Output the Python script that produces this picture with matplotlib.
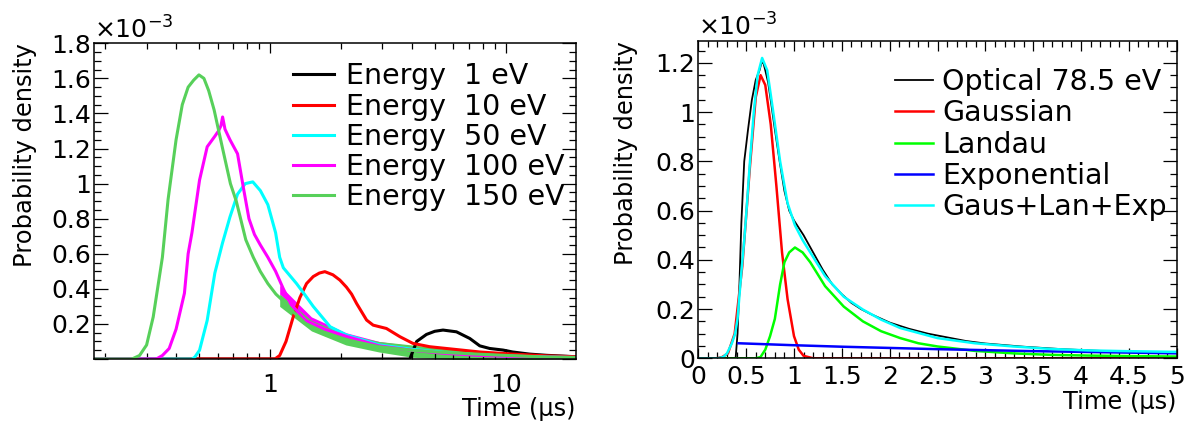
import matplotlib
matplotlib.use("Agg")
import matplotlib.pyplot as plt
from matplotlib.ticker import FixedLocator, LogLocator, NullFormatter, MultipleLocator, FuncFormatter

# ── Left panel: arrival time for several energies (y in units of 1e-3) ──────
energy_labels = ["Energy  1 eV", "Energy  10 eV", "Energy  50 eV", "Energy  100 eV", "Energy  150 eV"]

e1_t = [0.18, 3.92, 4.19, 4.61, 5.0, 5.42, 6.18, 7.04, 7.76, 8.55, 9.74, 10.7, 12.6, 14.9, 19.8]
e1_v = [0, 0, 0.10, 0.14, 0.158, 0.165, 0.155, 0.117, 0.075, 0.06, 0.051, 0.04, 0.028, 0.021, 0.013]

e10_t = [0.18, 1.05, 1.1, 1.17, 1.256, 1.34, 1.43, 1.526, 1.62, 1.71, 1.85, 1.98, 2.11, 2.22, 2.33,
         2.57, 2.74, 3.12, 3.56, 4.04, 4.76, 5.6, 7.76, 10.7, 14.9, 19.8]
e10_v = [0, 0, 0.02, 0.10, 0.241, 0.35, 0.43, 0.47, 0.49, 0.498, 0.48, 0.45, 0.41, 0.37, 0.317,
         0.222, 0.193, 0.174, 0.127, 0.089, 0.07, 0.06, 0.04, 0.028, 0.018, 0.013]

e50_t = [0.18, 0.467, 0.48, 0.503, 0.542, 0.584, 0.629, 0.677, 0.729, 0.786, 0.846, 0.911, 0.98,
         1.057, 1.10, 1.14, 1.297, 1.4, 1.526, 1.8, 2.11, 2.92, 4.04, 5.5, 7.76, 11, 15, 19.8]
e50_v = [0, 0, 0.01, 0.05, 0.22, 0.49, 0.66, 0.81, 0.94, 1.0, 1.01, 0.96, 0.88,
         0.72, 0.58, 0.52, 0.43, 0.37, 0.30, 0.184, 0.137, 0.08, 0.055, 0.037, 0.023, 0.016, 0.011, 0.009]

e100_t = [0.18, 0.33, 0.35, 0.374, 0.40, 0.434, 0.45, 0.467, 0.503, 0.542, 0.584, 0.605, 0.62, 0.63,
          0.645, 0.677, 0.729, 0.771, 0.815, 0.86, 0.911, 0.98, 1.057, 1.14, 1.23, 1.42, 1.71, 2.1,
          2.9, 4.0, 5.5, 7.8, 11, 15, 19.8]
e100_v = [0, 0, 0.02, 0.06, 0.17, 0.375, 0.6, 0.72, 1.02, 1.21, 1.27, 1.30, 1.33, 1.38, 1.31,
          1.25, 1.17, 0.98, 0.80, 0.71, 0.65, 0.58, 0.50, 0.40, 0.31, 0.22, 0.17, 0.13,
          0.075, 0.05, 0.032, 0.02, 0.014, 0.01, 0.008]

e150_t = [0.18, 0.26, 0.28, 0.30, 0.32, 0.35, 0.37, 0.40, 0.425, 0.45, 0.475, 0.50, 0.525, 0.55,
          0.58, 0.63, 0.68, 0.72, 0.79, 0.85, 0.91, 0.98, 1.06, 1.14, 1.23, 1.42, 1.71, 2.1, 2.9,
          4.0, 5.5, 7.8, 11, 15, 19.8]
e150_v = [0, 0, 0.02, 0.08, 0.24, 0.58, 0.91, 1.25, 1.45, 1.55, 1.59, 1.62, 1.60, 1.53,
          1.42, 1.2, 1.0, 0.9, 0.68, 0.58, 0.5, 0.43, 0.37, 0.33, 0.28, 0.2, 0.14, 0.11, 0.07,
          0.05, 0.037, 0.027, 0.018, 0.011, 0.008]

# spread of the bin-to-bin fluctuations in the tails
band_t = [1.1, 1.5, 2.1, 2.9, 4.0, 5.6, 7.8, 11, 15, 19.8]
e100_lo = [0.37, 0.19, 0.10, 0.05, 0.02, 0.01, 0.0, 0.0, 0.0, 0.0]
e100_hi = [0.42, 0.24, 0.15, 0.10, 0.075, 0.055, 0.04, 0.03, 0.02, 0.015]
e150_lo = [0.30, 0.16, 0.08, 0.04, 0.01, 0.0, -0.01, -0.01, 0.0, 0.0]
e150_hi = [0.37, 0.22, 0.14, 0.10, 0.08, 0.06, 0.045, 0.03, 0.02, 0.012]

# ── Right panel: optical 78.5 eV histogram and fit components ───────────────
fit_labels = ["Optical 78.5 eV", "Gaussian", "Landau", "Exponential", "Gaus+Lan+Exp"]

opt_t = [0, 0.39, 0.41, 0.43, 0.45, 0.48, 0.52, 0.56, 0.60, 0.64, 0.66, 0.68, 0.70, 0.73, 0.76,
         0.80, 0.85, 0.90, 0.95, 1.0, 1.05, 1.1, 1.2, 1.3, 1.4, 1.5, 1.6, 1.7, 1.8, 2.0, 2.2, 2.4,
         2.6, 2.8, 3.0, 3.4, 3.8, 4.2, 4.6, 5.0]
opt_v = [0, 0, 0.10, 0.30, 0.55, 0.80, 0.93, 1.05, 1.13, 1.17, 1.20, 1.20, 1.17, 1.12, 1.04,
         0.93, 0.80, 0.68, 0.60, 0.56, 0.53, 0.50, 0.43, 0.36, 0.30, 0.26, 0.225, 0.20, 0.18, 0.145,
         0.12, 0.10, 0.085, 0.07, 0.06, 0.047, 0.037, 0.03, 0.026, 0.022]

gaus_t = [0, 0.19, 0.25, 0.31, 0.38, 0.46, 0.54, 0.60, 0.651, 0.70, 0.757, 0.816, 0.875, 0.933,
          1.0, 1.05, 1.1, 1.2, 5.0]
gaus_v = [0, 0, 0.005, 0.02, 0.10, 0.375, 0.78, 1.06, 1.15, 1.11, 0.95, 0.70, 0.43, 0.24,
          0.09, 0.035, 0.01, 0, 0]

landau_t = [0, 0.6, 0.65, 0.7, 0.75, 0.8, 0.855, 0.9, 0.95, 1.01, 1.09, 1.17, 1.325, 1.52, 1.72,
            1.91, 2.11, 2.3, 2.5, 2.89, 3.29, 3.68, 4.07, 4.5, 5.0]
landau_v = [0, 0, 0.005, 0.035, 0.09, 0.16, 0.30, 0.39, 0.43, 0.45, 0.43, 0.39, 0.293, 0.21, 0.15,
            0.11, 0.082, 0.061, 0.048, 0.03, 0.02, 0.014, 0.011, 0.009, 0.007]

expo_t = [0.42, 1.0, 1.5, 2.0, 2.5, 3.0, 3.5, 4.0, 4.5, 5.0]
expo_v = [0.061, 0.053, 0.047, 0.042, 0.037, 0.033, 0.029, 0.026, 0.023, 0.020]

total_t = [0, 0.2, 0.26, 0.3, 0.35, 0.385, 0.41, 0.45, 0.48, 0.5, 0.54, 0.58, 0.62, 0.667, 0.72,
           0.776, 0.855, 0.933, 1.01, 1.09, 1.17, 1.325, 1.52, 1.72, 1.91, 2.11, 2.5, 2.89, 3.29,
           3.68, 4.07, 4.46, 5.0]
total_v = [0, 0, 0.005, 0.02, 0.06, 0.10, 0.16, 0.35, 0.48, 0.58, 0.80, 1.0, 1.15, 1.22, 1.17,
           1.02, 0.80, 0.63, 0.54, 0.48, 0.43, 0.334, 0.25, 0.198, 0.157, 0.123, 0.082, 0.061,
           0.048, 0.038, 0.032, 0.029, 0.026]

TICK_FS = 18
LABEL_FS = 17.4
fmt = FuncFormatter(lambda v, p: f"{v:g}")


def root_style(ax):
    for s in ax.spines.values():
        s.set_linewidth(1.1)
    ax.tick_params(which="both", direction="in", top=True, right=True, width=0.9,
                   labelsize=TICK_FS)
    ax.tick_params(axis="y", which="major", length=10, pad=2)
    ax.tick_params(axis="y", which="minor", length=5)
    ax.tick_params(axis="x", which="major", length=7.5)
    ax.tick_params(axis="x", which="minor", length=4)
    ax.yaxis.set_major_locator(MultipleLocator(0.2))
    ax.yaxis.set_minor_locator(MultipleLocator(0.05))
    ax.text(0.0, 1.0, r"$\times$10$^{-3}$", transform=ax.transAxes, ha="left", va="bottom",
            fontsize=TICK_FS)


fig = plt.figure(figsize=(11.89, 4.23), dpi=100)

# ── left ─────────────────────────────────────────────────────────────────────
axL = fig.add_axes([0.0793, 0.1513, 0.4049, 0.7463])
axL.plot(e1_t, e1_v, color="black", lw=2.2, label=energy_labels[0])
axL.plot(e10_t, e10_v, color="#ff0000", lw=2.2, label=energy_labels[1])
axL.plot(e50_t, e50_v, color="#00ffff", lw=2.2, label=energy_labels[2])
axL.fill_between(band_t, e100_lo, e100_hi, color="#ff00ff", lw=0)
axL.plot(e100_t, e100_v, color="#ff00ff", lw=2.2, label=energy_labels[3])
axL.fill_between(band_t, e150_lo, e150_hi, color="#57d05a", lw=0)
axL.plot(e150_t, e150_v, color="#57d05a", lw=2.2, label=energy_labels[4])
axL.set_xscale("log")
axL.set_xlim(0.18, 19.8)
axL.set_ylim(0, 1.8)
root_style(axL)
axL.xaxis.set_major_locator(FixedLocator([1, 10]))
axL.xaxis.set_major_formatter(fmt)
axL.xaxis.set_minor_locator(LogLocator(base=10, subs=range(2, 10)))
axL.xaxis.set_minor_formatter(NullFormatter())
axL.tick_params(axis="x", which="major", pad=10)
axL.yaxis.set_major_formatter(FuncFormatter(lambda v, p: "" if abs(v) < 1e-9 else f"{v:g}"))
axL.set_ylabel("Probability density", fontsize=LABEL_FS, loc="top")
axL.yaxis.set_label_coords(-0.119, 1.0)
axL.set_xlabel("Time (\u00b5s)", fontsize=LABEL_FS, loc="right")
axL.xaxis.set_label_coords(1.0, -0.12)
axL.legend(loc="upper left", bbox_to_anchor=(0.413, 0.94), frameon=False, fontsize=20.5,
           handlelength=1.45, handletextpad=0.4, labelspacing=0.08, borderpad=0,
           borderaxespad=0)

# ── right ────────────────────────────────────────────────────────────────────
axR = fig.add_axes([0.5873, 0.153, 0.4024, 0.7508])
axR.plot(opt_t, opt_v, color="black", lw=1.3, label=fit_labels[0])
axR.plot(gaus_t, gaus_v, color="#ff0000", lw=1.8, label=fit_labels[1])
axR.plot(landau_t, landau_v, color="#00ff00", lw=1.8, label=fit_labels[2])
axR.plot(expo_t, expo_v, color="#0000ff", lw=1.8, label=fit_labels[3])
axR.plot(total_t, total_v, color="#00ffff", lw=1.8, label=fit_labels[4])
axR.set_xlim(0, 5)
axR.set_ylim(0, 1.29)
root_style(axR)
axR.xaxis.set_major_locator(MultipleLocator(0.5))
axR.xaxis.set_minor_locator(MultipleLocator(0.1))
axR.xaxis.set_major_formatter(fmt)
axR.yaxis.set_major_formatter(fmt)
axR.tick_params(axis="x", which="major", pad=4.5)
axR.set_ylabel("Probability density", fontsize=LABEL_FS, loc="top")
axR.yaxis.set_label_coords(-0.127, 1.0)
axR.set_xlabel("Time (\u00b5s)", fontsize=LABEL_FS, loc="right")
axR.xaxis.set_label_coords(1.0, -0.1)
axR.legend(loc="upper left", bbox_to_anchor=(0.411, 0.915), frameon=False, fontsize=20.5,
           handlelength=1.35, handletextpad=0.3, labelspacing=0.12, borderpad=0,
           borderaxespad=0)

fig.savefig("out.png", dpi=100)
